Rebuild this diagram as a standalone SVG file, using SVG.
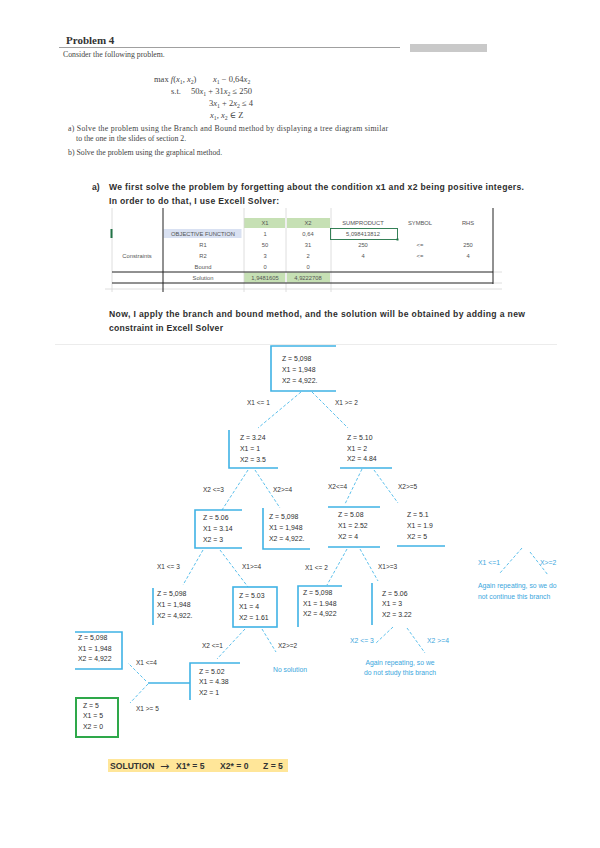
<svg xmlns="http://www.w3.org/2000/svg" width="600" height="848" viewBox="0 0 600 848">
<style>
.ser{font-family:"Liberation Serif","DejaVu Serif",serif;fill:#444}
.m{font-family:"Liberation Serif","DejaVu Serif",serif;font-size:8.5px;fill:#444}
.i{font-style:italic}
.para{font-family:"Liberation Sans",Arial,sans-serif;font-size:8.6px;font-weight:bold;fill:#2e2e2e}
.tb{font-family:"Liberation Sans",Arial,sans-serif;font-size:5.8px;fill:#555;text-anchor:middle}
.nt{font-family:"Liberation Sans",Arial,sans-serif;font-size:6.9px;fill:#2e2e2e}
.lb{font-family:"Liberation Sans",Arial,sans-serif;font-size:6.5px;fill:#333}
.bt{font-family:"Liberation Sans",Arial,sans-serif;font-size:6.8px;fill:#3aa6dd}
.box{fill:none;stroke:#3fb2e5;stroke-width:1.6}
.con{fill:none;stroke:#5cc0ec;stroke-width:1;stroke-dasharray:3 2}
.grid{stroke:#d6d6d6;stroke-width:0.8}
.blk{stroke:#222;stroke-width:1}
.sol{font-family:"Liberation Sans",Arial,sans-serif;font-size:8.6px;font-weight:bold;fill:#333}
</style>
<rect width="600" height="848" fill="#fff"/>

<g id="header">
<text x="66" y="44" class="ser" style="font-size:11px;font-weight:bold;fill:#333">Problem 4</text>
<line x1="59" y1="47.5" x2="400" y2="47.5" stroke="#a0a0a0" stroke-width="1"/>
<rect x="410" y="44" width="77" height="8" fill="#c9c9c9"/>
<text x="63" y="57" class="ser" style="font-size:7.8px">Consider the following problem.</text>
<text x="154" y="82" class="m">max <tspan class="i">f</tspan>(<tspan class="i">x</tspan><tspan dy="1.5" font-size="5.8">1</tspan><tspan dy="-1.5">, </tspan><tspan class="i">x</tspan><tspan dy="1.5" font-size="5.8">2</tspan><tspan dy="-1.5">)</tspan></text>
<text x="213" y="82" class="m"><tspan class="i">x</tspan><tspan dy="1.5" font-size="5.8">1</tspan><tspan dy="-1.5"> − 0,64</tspan><tspan class="i">x</tspan><tspan dy="1.5" font-size="5.8">2</tspan></text>
<text x="171" y="94" class="m">s.t.</text>
<text x="191" y="94" class="m">50<tspan class="i">x</tspan><tspan dy="1.5" font-size="5.8">1</tspan><tspan dy="-1.5"> + 31</tspan><tspan class="i">x</tspan><tspan dy="1.5" font-size="5.8">2</tspan><tspan dy="-1.5"> ≤ 250</tspan></text>
<text x="209" y="106" class="m">3<tspan class="i">x</tspan><tspan dy="1.5" font-size="5.8">1</tspan><tspan dy="-1.5"> + 2</tspan><tspan class="i">x</tspan><tspan dy="1.5" font-size="5.8">2</tspan><tspan dy="-1.5"> ≤ 4</tspan></text>
<text x="210" y="118" class="m"><tspan class="i">x</tspan><tspan dy="1.5" font-size="5.8">1</tspan><tspan dy="-1.5">, </tspan><tspan class="i">x</tspan><tspan dy="1.5" font-size="5.8">2</tspan><tspan dy="-1.5"> ∈ Z</tspan></text>
<text x="68" y="131" class="ser" style="font-size:7.8px" textLength="320">a) Solve the problem using the Branch and Bound method by displaying a tree diagram similar</text>
<text x="76" y="141" class="ser" style="font-size:7.8px">to the one in the slides of section 2.</text>
<text x="68" y="155" class="ser" style="font-size:7.8px">b) Solve the problem using the graphical method.</text>
</g>

<g id="intro">
<text x="92" y="190" class="para">a)</text>
<text x="109" y="190" class="para" textLength="415">We first solve the problem by forgetting about the condition x1 and x2 being positive integers.</text>
<text x="109" y="204" class="para" textLength="170">In order to do that, I use Excell Solver:</text>
</g>

<g id="table">
<rect x="244" y="218" width="41" height="10" fill="#c6e0b4"/>
<rect x="287" y="218" width="43" height="10" fill="#c6e0b4"/>
<rect x="163.5" y="229" width="78" height="9" fill="#d9e1f2"/>
<rect x="244" y="272.5" width="41" height="10" fill="#c6e0b4"/>
<rect x="287" y="272.5" width="43" height="10" fill="#c6e0b4"/>
<line x1="112" y1="208" x2="112" y2="292" class="grid"/>
<line x1="244" y1="208" x2="244" y2="292" class="grid"/>
<line x1="286" y1="208" x2="286" y2="292" class="grid"/>
<line x1="331" y1="208" x2="331" y2="292" class="grid"/>
<line x1="105" y1="289" x2="502" y2="289" class="grid"/>
<line x1="493" y1="272" x2="502" y2="272" class="grid"/>
<line x1="493" y1="283" x2="502" y2="283" class="grid"/>
<line x1="163" y1="208" x2="163" y2="292" class="blk"/>
<line x1="493" y1="208" x2="493" y2="284" class="blk"/>
<line x1="112" y1="272" x2="493" y2="272" class="blk"/>
<line x1="112" y1="283" x2="493" y2="283" class="blk"/>
<rect x="110.5" y="229" width="2" height="9" fill="#217346"/>
<rect x="330.5" y="228.5" width="67" height="11" fill="none" stroke="#217346" stroke-width="0.9"/>
<rect x="396.5" y="238.5" width="2" height="2" fill="#217346"/>
<text x="265" y="225" class="tb">X1</text>
<text x="308" y="225" class="tb">X2</text>
<text x="363" y="225" class="tb">SUMPRODUCT</text>
<text x="420" y="225" class="tb">SYMBOL</text>
<text x="468" y="225" class="tb">RHS</text>
<text x="203" y="236" class="tb">OBJECTIVE FUNCTION</text>
<text x="265" y="236" class="tb">1</text>
<text x="308" y="236" class="tb">0,64</text>
<text x="363" y="236" class="tb">5,098413812</text>
<text x="203" y="247" class="tb">R1</text>
<text x="265" y="247" class="tb">50</text>
<text x="308" y="247" class="tb">31</text>
<text x="363" y="247" class="tb">250</text>
<text x="420" y="247" class="tb">&lt;=</text>
<text x="468" y="247" class="tb">250</text>
<text x="137" y="258" class="tb">Constraints</text>
<text x="203" y="258" class="tb">R2</text>
<text x="265" y="258" class="tb">3</text>
<text x="308" y="258" class="tb">2</text>
<text x="363" y="258" class="tb">4</text>
<text x="420" y="258" class="tb">&lt;=</text>
<text x="468" y="258" class="tb">4</text>
<text x="203" y="269" class="tb">Bound</text>
<text x="265" y="269" class="tb">0</text>
<text x="308" y="269" class="tb">0</text>
<text x="203" y="280" class="tb">Solution</text>
<text x="265" y="280" class="tb">1,9481605</text>
<text x="308" y="280" class="tb">4,9222708</text>
</g>

<g id="bb-text">
<text x="109" y="317" class="para" textLength="416">Now, I apply the branch and bound method, and the solution will be obtained by adding a new</text>
<text x="109" y="331" class="para" textLength="114">constraint in Excell Solver</text>
<line x1="55" y1="344.5" x2="557" y2="344.5" stroke="#ececec" stroke-width="1"/>
</g>

<g id="connectors">
<line x1="301" y1="392" x2="258" y2="428" class="con"/>
<line x1="312" y1="392" x2="348" y2="428" class="con"/>
<line x1="248" y1="470" x2="222" y2="510" class="con"/>
<line x1="255" y1="470" x2="280" y2="508" class="con"/>
<line x1="362" y1="469" x2="345" y2="504" class="con"/>
<line x1="374" y1="470" x2="398" y2="503" class="con"/>
<line x1="203" y1="550" x2="183" y2="585" class="con"/>
<line x1="220" y1="550" x2="248" y2="587" class="con"/>
<line x1="347" y1="549" x2="327" y2="585" class="con"/>
<line x1="360" y1="549" x2="378" y2="581" class="con"/>
<line x1="393" y1="627" x2="375" y2="644" class="con"/>
<line x1="407" y1="628" x2="425" y2="653" class="con"/>
<line x1="245" y1="629" x2="217" y2="659" class="con"/>
<line x1="262" y1="629" x2="276" y2="652" class="con"/>
<line x1="148" y1="683" x2="190" y2="683" fill="none" stroke="#3fb2e5" stroke-width="1.4"/>
<line x1="146" y1="681" x2="128" y2="663" class="con"/>
<line x1="148" y1="684" x2="130" y2="703" class="con"/>
<line x1="522" y1="548" x2="500" y2="573" class="con"/>
<line x1="530" y1="552" x2="548" y2="575" class="con"/>
</g>

<g id="labels">
<text x="247" y="405" class="lb">X1 &lt;= 1</text>
<text x="335" y="405" class="lb">X1 &gt;= 2</text>
<text x="203" y="492" class="lb">X2 &lt;=3</text>
<text x="273" y="492" class="lb">X2&gt;=4</text>
<text x="328" y="489" class="lb">X2&lt;=4</text>
<text x="398" y="489" class="lb">X2&gt;=5</text>
<text x="157" y="569" class="lb">X1 &lt;= 3</text>
<text x="242" y="569" class="lb">X1&gt;=4</text>
<text x="305" y="570" class="lb">X1 &lt;= 2</text>
<text x="378" y="569" class="lb">X1&gt;=3</text>
<text x="202" y="648" class="lb">X2 &lt;=1</text>
<text x="278" y="648" class="lb">X2&gt;=2</text>
<text x="136" y="665" class="lb">X1 &lt;=4</text>
<text x="136" y="711" class="lb">X1 &gt;= 5</text>
<text x="350" y="643" class="bt">X2 &lt;= 3</text>
<text x="427" y="643" class="bt">X2 &gt;=4</text>
<text x="400" y="665" class="bt" text-anchor="middle">Again repeating, so we</text>
<text x="400" y="675" class="bt" text-anchor="middle">do not study this branch</text>
<text x="273" y="672" class="bt">No solution</text>
<text x="478" y="565" class="bt">X1 &lt;=1</text>
<text x="540" y="565" class="bt">X&gt;=2</text>
<text x="478" y="588" class="bt">Again repeating, so we do</text>
<text x="478" y="599" class="bt">not continue this branch</text>
</g>

<g id="n1">
<path d="M336,346 H271 V391 H336" class="box"/>
<text x="282" y="360.5" class="nt">Z = 5,098</text>
<text x="282" y="371.5" class="nt">X1 = 1,948</text>
<text x="282" y="382.5" class="nt">X2 = 4,922.</text>
</g>
<g id="n2">
<path d="M229,430 V468 H278" class="box"/>
<text x="240" y="440" class="nt">Z = 3.24</text>
<text x="240" y="451" class="nt">X1 = 1</text>
<text x="240" y="462" class="nt">X2 = 3.5</text>
</g>
<g id="n3">
<path d="M340,468 H392" class="box"/>
<text x="347" y="440" class="nt">Z = 5.10</text>
<text x="347" y="450.5" class="nt">X1 = 2</text>
<text x="347" y="461" class="nt">X2 = 4.84</text>
</g>
<g id="n4">
<path d="M242,510 H195 V548 H242" class="box"/>
<text x="203" y="519.5" class="nt">Z = 5.06</text>
<text x="203" y="531" class="nt">X1 = 3.14</text>
<text x="203" y="541.5" class="nt">X2 = 3</text>
</g>
<g id="n5">
<path d="M263,508 V549 H310" class="box"/>
<text x="269" y="518.5" class="nt">Z = 5,098</text>
<text x="269" y="529.5" class="nt">X1 = 1,948</text>
<text x="269" y="540.5" class="nt">X2 = 4,922.</text>
</g>
<g id="n6">
<path d="M328,507 H380 M328,547 H380" class="box"/>
<text x="338" y="516.5" class="nt">Z = 5.08</text>
<text x="338" y="527.5" class="nt">X1 = 2.52</text>
<text x="338" y="538.5" class="nt">X2 = 4</text>
</g>
<g id="n7">
<path d="M397,546 H445" class="box"/>
<text x="407" y="516.5" class="nt">Z = 5.1</text>
<text x="407" y="527.5" class="nt">X1 = 1.9</text>
<text x="407" y="538.5" class="nt">X2 = 5</text>
</g>
<g id="n8">
<path d="M153,588 V625" class="box"/>
<text x="157" y="595.5" class="nt">Z = 5,098</text>
<text x="157" y="607" class="nt">X1 = 1,948</text>
<text x="157" y="618" class="nt">X2 = 4,922.</text>
</g>
<g id="n9">
<rect x="233" y="587" width="44" height="40" class="box"/>
<text x="239" y="598" class="nt">Z = 5.03</text>
<text x="239" y="609" class="nt">X1 = 4</text>
<text x="239" y="619.5" class="nt">X2 = 1.61</text>
</g>
<g id="n10">
<path d="M342,586 H298 V627" class="box"/>
<text x="303" y="595" class="nt">Z = 5,098</text>
<text x="303" y="605.5" class="nt">X1 = 1.948</text>
<text x="303" y="616" class="nt">X2 = 4,922</text>
</g>
<g id="n11">
<path d="M372,583 V625" class="box"/>
<text x="382" y="595.5" class="nt">Z = 5.06</text>
<text x="382" y="605.5" class="nt">X1 = 3</text>
<text x="382" y="616.5" class="nt">X2 = 3.22</text>
</g>
<g id="n12">
<path d="M240,663 H190 V700" class="box"/>
<text x="199" y="673.5" class="nt">Z = 5.02</text>
<text x="199" y="683.5" class="nt">X1 = 4.38</text>
<text x="199" y="694.5" class="nt">X2 = 1</text>
</g>
<g id="n13">
<path d="M75,632 H122 V669 H75" class="box"/>
<text x="78" y="639.5" class="nt">Z = 5,098</text>
<text x="78" y="650.5" class="nt">X1 = 1,948</text>
<text x="78" y="661" class="nt">X2 = 4,922</text>
</g>
<g id="n14">
<rect x="76" y="698" width="42" height="39" fill="none" stroke="#2ea84a" stroke-width="2"/>
<text x="83" y="707.5" class="nt">Z = 5</text>
<text x="83" y="718" class="nt">X1 = 5</text>
<text x="83" y="728.5" class="nt">X2 = 0</text>
</g>

<g id="solution">
<rect x="108" y="759" width="180" height="13" fill="#ffe699"/>
<text x="110" y="769" class="sol">SOLUTION</text>
<text x="160" y="769.5" style="font-family:'DejaVu Sans',sans-serif;font-size:11px;fill:#333">→</text>
<text x="176" y="769" class="sol">X1* = 5</text>
<text x="220" y="769" class="sol">X2* = 0</text>
<text x="263" y="769" class="sol">Z = 5</text>
</g>
</svg>
